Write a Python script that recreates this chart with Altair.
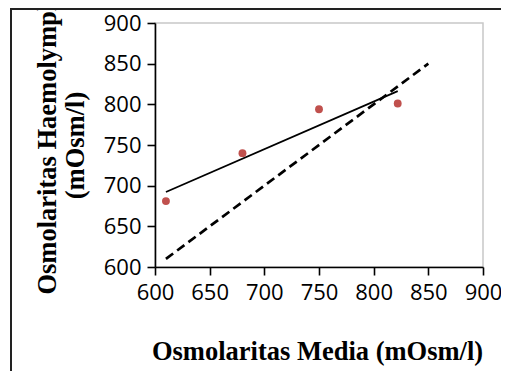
import altair as alt
import pandas as pd

# Data
media = [610, 680, 750, 822]
haemo = [681, 740, 794, 801]
iso_x = [610, 850]
iso_y = [610, 850]
ticks = [600, 650, 700, 750, 800, 850, 900]

pts = pd.DataFrame({"media": media, "haemo": haemo})
iso = pd.DataFrame({"media": iso_x, "haemo": iso_y})

x_scale = alt.Scale(domain=[600, 900], nice=False, zero=False)
y_scale = alt.Scale(domain=[600, 900], nice=False, zero=False)

x_axis = alt.Axis(
    values=ticks, grid=False, title="Osmolaritas Media (mOsm/l)",
    domainColor="black", domainWidth=1.6, tickColor="black", tickWidth=1.6, tickSize=8,
    labelFont="Open Sans", labelFontSize=22, labelColor="black", labelPadding=7,
    labelFlush=False, labelOverlap=False,
    titleFont="Liberation Serif", titleFontSize=26.5, titleFontWeight="bold", titleColor="black",
    titleX=162, titleY=92, titleAlign="center", titleBaseline="alphabetic",
)
y_axis = alt.Axis(
    values=ticks, grid=False, title=["Osmolaritas Haemolymph", "(mOsm/l)"],
    domainColor="black", domainWidth=1.6, tickColor="black", tickWidth=1.6, tickSize=8,
    labelFont="Open Sans", labelFontSize=22, labelColor="black", labelPadding=6,
    labelFlush=False, labelOverlap=False,
    titleFont="Liberation Serif", titleFontSize=26.5, titleFontWeight="bold", titleColor="black",
    titleAngle=270, titleX=-100, titleY=122, titleAlign="center", titleBaseline="alphabetic",
    titleLineHeight=28,
)

base = alt.Chart(pts)

points = base.mark_circle(size=62, color="#c0504d", opacity=1).encode(
    x=alt.X("media:Q", scale=x_scale, axis=x_axis),
    y=alt.Y("haemo:Q", scale=y_scale, axis=y_axis),
)

reg = base.transform_regression("media", "haemo").mark_line(
    color="black", strokeWidth=1.8
).encode(
    x=alt.X("media:Q", scale=x_scale),
    y=alt.Y("haemo:Q", scale=y_scale),
)

dashed = alt.Chart(iso).mark_line(
    color="black", strokeWidth=2.7, strokeDash=[9, 5]
).encode(
    x=alt.X("media:Q", scale=x_scale),
    y=alt.Y("haemo:Q", scale=y_scale),
)

frame_v = alt.Chart(pts).mark_rule(color="#222222", strokeWidth=2).encode(
    x=alt.value(-144), y=alt.value(-14), y2=alt.value(360)
)
frame_h = alt.Chart(pts).mark_rule(color="#222222", strokeWidth=2).encode(
    x=alt.value(-145), x2=alt.value(360), y=alt.value(-14)
)

chart = alt.layer(dashed, reg, points, frame_v, frame_h).properties(
    width=328, height=244,
    autosize=alt.AutoSizeParams(type="none"),
    padding={"left": 147, "top": 15, "right": 18, "bottom": 104},
).configure_view(stroke="#c8c8c8", strokeWidth=1.5)

chart.save("out.html", embed_options={"renderer": "svg", "actions": False})
